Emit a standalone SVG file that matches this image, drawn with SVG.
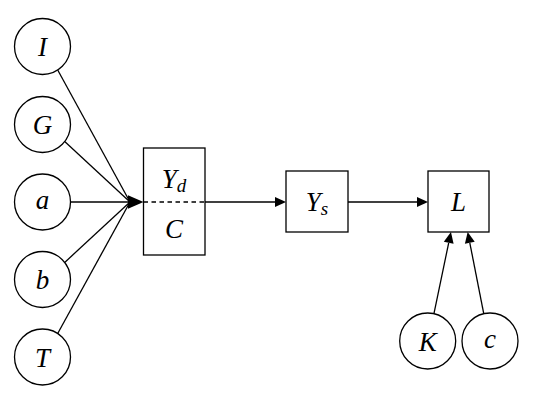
<svg xmlns="http://www.w3.org/2000/svg" width="540" height="407" viewBox="0 0 540 407">
<style>
.n{fill:#fff;stroke:#000;stroke-width:1.3}
.t{font-family:"Liberation Serif","DejaVu Serif",serif;font-style:italic;font-size:27px;fill:#000;text-anchor:middle}
.s{font-size:19px}
.e{stroke:#000;stroke-width:1.3;fill:none}
</style>
<defs>
<marker id="ar" markerUnits="userSpaceOnUse" markerWidth="12" markerHeight="11" refX="0" refY="5" orient="auto" overflow="visible">
<path d="M0,0 L11,5 L0,10 z" fill="#000"/>
</marker>
</defs>
<g id="connectors">
<line class="e" x1="57.7" y1="70" x2="130" y2="202"/>
<line class="e" x1="64.7" y1="141.6" x2="130" y2="202"/>
<line class="e" x1="70.5" y1="202" x2="130" y2="202"/>
<line class="e" x1="64.7" y1="262.4" x2="130" y2="202"/>
<line class="e" x1="57.7" y1="333.5" x2="130" y2="202"/>
<path d="M128,195.3 L143.5,202 L128,208.7 z" fill="#000"/>
<line class="e" x1="205" y1="202" x2="275" y2="202" marker-end="url(#ar)"/>
<line class="e" x1="348" y1="202" x2="417" y2="202" marker-end="url(#ar)"/>
<line class="e" x1="434" y1="313.3" x2="448.7" y2="242.8" marker-end="url(#ar)"/>
<line class="e" x1="483.7" y1="313.3" x2="469.8" y2="242.8" marker-end="url(#ar)"/>
</g>
<g id="I"><circle class="n" cx="42.5" cy="46.5" r="28"/><text class="t" x="42.5" y="55.5">I</text></g>
<g id="G"><circle class="n" cx="42.5" cy="124.5" r="28"/><text class="t" x="42.5" y="134">G</text></g>
<g id="a"><circle class="n" cx="42.5" cy="202" r="28"/><text class="t" x="42.5" y="208.5">a</text></g>
<g id="b"><circle class="n" cx="42.5" cy="279.5" r="28"/><text class="t" x="42.5" y="289">b</text></g>
<g id="T"><circle class="n" cx="42.5" cy="357" r="28"/><text class="t" x="42.5" y="366.5">T</text></g>
<g id="YdC">
<rect class="n" x="143.5" y="148" width="61.5" height="107"/>
<line x1="143.5" y1="202" x2="205" y2="202" stroke="#000" stroke-width="1.3" stroke-dasharray="4.5,3.5"/>
<text class="t" x="174" y="187.5">Y<tspan class="s" dy="4">d</tspan></text>
<text class="t" x="174" y="237.5">C</text>
</g>
<g id="Ys"><rect class="n" x="286" y="171" width="62" height="61"/><text class="t" x="317" y="210.5">Y<tspan class="s" dy="4">s</tspan></text></g>
<g id="L"><rect class="n" x="428" y="171" width="61" height="61"/><text class="t" x="458.5" y="210.5">L</text></g>
<g id="K"><circle class="n" cx="427.7" cy="341" r="28"/><text class="t" x="427.7" y="350.5">K</text></g>
<g id="c"><circle class="n" cx="490" cy="341" r="28"/><text class="t" x="490" y="347.5">c</text></g>
</svg>
